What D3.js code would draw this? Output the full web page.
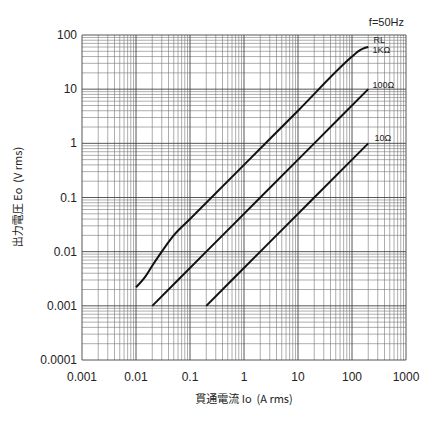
<!DOCTYPE html>
<html><head><meta charset="utf-8">
<script src="https://cdn.jsdelivr.net/npm/d3@7"></script>
<style>body{margin:0;background:#fff}text{font-family:"Liberation Sans",Arial,sans-serif;fill:#222;white-space:pre}</style>
</head><body><svg id="c" width="438" height="423"></svg>
<script>
// curves: [current A, voltage V]
var curve1k = [[0.01,0.0022],[0.015,0.0035],[0.02,0.0055],[0.03,0.01],[0.04,0.015],[0.05,0.02],[0.1,0.04],[1,0.4],[10,4],[100,40],[130,50],[160,56],[200,60]];
var curve100 = [[0.02,0.001],[0.2,0.01],[2,0.1],[20,1],[200,10]];
var curve10 = [[0.2,0.001],[2,0.01],[20,0.1],[200,1]];
var xTicks = [0.001,0.01,0.1,1,10,100,1000];
var xLabels = ["0.001","0.01","0.1","1","10","100","1000"];
var yTicks = [0.0001,0.001,0.01,0.1,1,10,100];
var yLabels = ["0.0001","0.001","0.01","0.1","1","10","100"];

var svg = d3.select("#c");
var x = d3.scaleLog().domain([0.001,1000]).range([82,406]);
var y = d3.scaleLog().domain([0.0001,100]).range([360,35]);

var g = svg.append("g");
function minors(dom){
  var out=[];
  for (var e=Math.log10(dom[0]); e<Math.log10(dom[1]); e++)
    for (var k=2;k<=9;k++) out.push(k*Math.pow(10,e));
  return out;
}
g.selectAll(".mx").data(minors(x.domain())).enter().append("line")
  .attr("x1",d=>x(d)).attr("x2",d=>x(d)).attr("y1",35).attr("y2",360)
  .attr("stroke","#777").attr("stroke-width",0.6);
g.selectAll(".my").data(minors(y.domain())).enter().append("line")
  .attr("y1",d=>y(d)).attr("y2",d=>y(d)).attr("x1",82).attr("x2",406)
  .attr("stroke","#777").attr("stroke-width",0.6);
g.selectAll(".Mx").data(xTicks).enter().append("line")
  .attr("x1",d=>x(d)).attr("x2",d=>x(d)).attr("y1",35).attr("y2",360)
  .attr("stroke","#444").attr("stroke-width",0.9);
g.selectAll(".My").data(yTicks).enter().append("line")
  .attr("y1",d=>y(d)).attr("y2",d=>y(d)).attr("x1",82).attr("x2",406)
  .attr("stroke","#444").attr("stroke-width",0.9);

svg.selectAll(".xl").data(xTicks).enter().append("text")
  .attr("x",d=>x(d)).attr("y",381).attr("text-anchor","middle").attr("font-size",12)
  .text((d,i)=>xLabels[i]);
svg.selectAll(".yl").data(yTicks).enter().append("text")
  .attr("x",77).attr("y",d=>y(d)+4).attr("text-anchor","end").attr("font-size",12)
  .text((d,i)=>yLabels[i]);

var line = d3.line().x(d=>x(d[0])).y(d=>y(d[1])).curve(d3.curveMonotoneX);
[curve1k,curve100,curve10].forEach(function(c){
  svg.append("path").attr("d",line(c)).attr("fill","none").attr("stroke","#111").attr("stroke-width",2);
});

function lab(t,px,py){ svg.append("text").attr("x",px).attr("y",py).attr("font-size",9).text(t); }
lab("RL",x(220)+3,y(60)-4);
lab("1KΩ",x(220)+2,y(60)+6);
lab("100Ω",x(220)+2,y(10)-1);
lab("10Ω",x(220)+4,y(1)-2);
svg.append("text").attr("x",404).attr("y",26).attr("text-anchor","end").attr("font-size",11).text("f=50Hz");

svg.append("text").attr("x",244).attr("y",403).attr("text-anchor","middle").attr("font-size",11)
  .style("font-family","'Noto Sans CJK JP',sans-serif").text("貫通電流 Io  (A rms)");
svg.append("text").attr("transform","translate(22,197) rotate(-90)").attr("text-anchor","middle").attr("font-size",11)
  .style("font-family","'Noto Sans CJK JP',sans-serif").text("出力電圧 Eo  (V rms)");
</script></body></html>
